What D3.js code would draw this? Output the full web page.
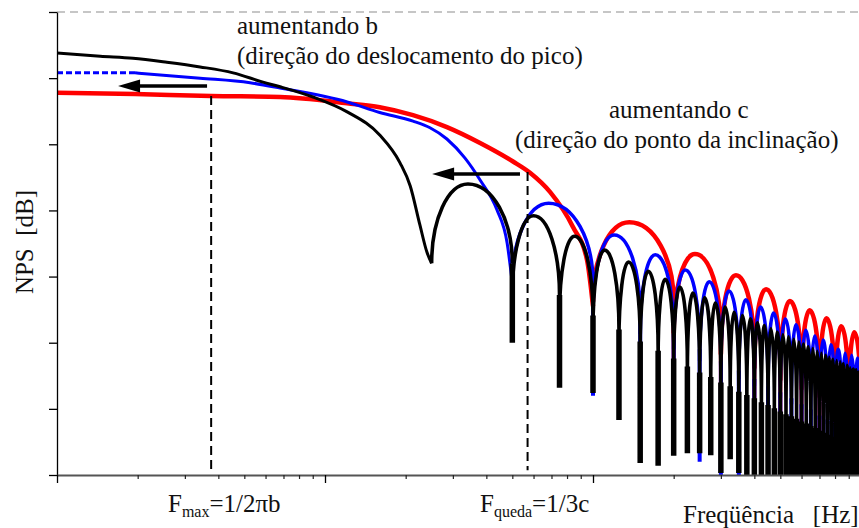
<!DOCTYPE html>
<html>
<head>
<meta charset="utf-8">
<script src="https://cdn.jsdelivr.net/npm/d3@7"></script>
<style>
  body { margin: 0; background: #fff; }
  svg text { font-family: "Liberation Serif", "Times New Roman", serif; fill: #111; white-space: pre; }
</style>
</head>
<body>
<svg id="chart" width="859" height="528"></svg>
<script>
// frequency in relative units (log axis), level in dB below the top of the frame
var xMajorTicks = [1, 10, 100, 1000];
var xMinorTicks = [2, 3, 4, 5, 6, 7, 8, 9, 20, 30, 40, 50, 60, 70, 80, 90,
                   200, 300, 400, 500, 600, 700, 800, 900];
var yTicks = [0, -10, -20, -30, -40, -50, -60, -70];

// main lobes [f, dB]
var blackMain = [[1, -6.2], [1.45, -6.7], [1.92, -7.0], [2.57, -7.6], [3.42, -8.3], [4.54, -9.2],
                 [5.87, -10.6], [6.8, -11.3], [9.02, -12.85], [12.1, -15.1], [16.0, -18.6],
                 [19.05, -22.8], [20.8, -26.3], [22.6, -32.2], [24.0, -36.3]];
var blueMain = [[1, -9.2], [1.955, -9.2], [3.42, -10.0], [5.25, -10.7], [6.8, -11.5], [12.1, -13.6],
                [16.0, -15.2], [21.3, -16.5], [24.65, -17.5], [28.5, -19.2], [33.3, -22.1],
                [37.9, -25.4], [43.8, -29.9], [47.8, -34.9]];
var redMain = [[1, -12.2], [1.955, -12.4], [3.76, -12.7], [6.8, -12.85], [12.1, -13.8], [16.0, -14.4],
               [21.3, -15.6], [28.5, -17.4], [37.9, -19.8], [50.3, -22.6], [58.2, -24.3], [69.1, -27.2],
               [84.2, -32.5], [95.0, -37.5]];

// side lobes: null frequencies, lobe peaks, null depths
var blackNulls = [25, 50, 75, 100, 125, 150, 175, 200, 225, 250, 275, 300, 325, 350, 375, 400,
                  425, 450, 475, 500, 525, 550, 575, 600, 625, 650, 675, 700, 725, 750, 775, 800,
                  825, 850, 875, 900, 925, 950, 975, 1000];
var blackPeaks = [-26.0, -30.8, -33.9, -36.0, -37.8, -39.2, -40.4, -41.6, -42.5, -43.2, -44.0,
                  -44.6, -45.4, -45.9, -46.4, -47.0, -47.4, -47.9, -48.4, -48.8, -49.1, -49.5,
                  -49.9, -50.2, -50.6, -50.9, -51.3, -51.6, -51.9, -52.2, -52.5, -52.7, -52.9,
                  -53.2, -53.4, -53.8, -54.0, -54.1, -54.4];
var blackDepths = [-38.0, -50.0, -56.8, -57.6, -61.7, -68.2, -68.6, -67.1, -66.7, -66.7, -67.0,
                   -69.7, -67.6, -69.7, -75, -75, -75, -75, -75, -75, -75, -75, -75, -75, -75,
                   -75, -75, -75, -75, -75, -75, -75, -75, -75, -75, -75, -75, -75, -75, -75];

var blueNulls = [50, 100, 150, 200, 250, 300, 350, 400, 450, 500, 550, 600, 650, 700, 750, 800,
                 850, 900, 950, 1000];
var bluePeaks = [-28.9, -33.7, -36.7, -39.0, -40.8, -42.2, -43.5, -44.6, -45.5, -46.4, -47.3,
                 -48.1, -49.0, -49.6, -50.3, -51.0, -51.6, -51.9, -52.3];
var blueDepths = [-41.0, -58, -66, -65, -68, -70, -75, -75, -75, -75, -75, -75, -75, -75, -75,
                  -75, -75, -75, -75, -75];

var redNulls = [100, 200, 300, 400, 500, 600, 700, 800, 900, 1000];
var redPeaks = [-31.8, -36.6, -39.8, -41.9, -43.7, -45.1, -46.3, -47.5, -48.4];
var redDepths = [-44.5, -56.1, -63.2, -66.2, -68.8, -68.9, -67.0, -66.2, -64.7, -66];

// annotations
var guideF = [3.76, 57], guideTop = [-12.7, -24.2], guideBottom = -69.3;
var arrowFrom = [3.63, 53.4], arrowTo = [1.69, 25.1], arrowLevel = [-11.2, -24.5];

var archDepth = 12;   // dB from peak where a lobe turns into its null

var svg = d3.select("#chart");
var x = d3.scaleLog().domain([1, 1000]).range([57, 861]);
var y = d3.scaleLinear().domain([-70, 0]).range([475, 12]);

svg.append("defs").append("clipPath").attr("id", "plot")
  .append("rect").attr("x", 57).attr("y", 12).attr("width", 802).attr("height", 463);

// top dashed frame line
svg.append("line")
  .attr("x1", x(1)).attr("x2", 859).attr("y1", y(0)).attr("y2", y(0))
  .attr("stroke", "#b4b4b4").attr("stroke-width", 1.5).attr("stroke-dasharray", "8,5");

var line = d3.line().x(function(d) { return x(d[0]); }).y(function(d) { return y(d[1]); })
  .curve(d3.curveMonotoneX);

function sideLobes(nulls, peaks, depths) {
  var arches = "", legs = "";
  peaks.forEach(function(pk, i) {
    var xl = x(nulls[i]), xr = x(nulls[i + 1]), xm = xl + 0.45 * (xr - xl);
    var yp = y(pk);
    var yl = y(Math.max(depths[i], pk - archDepth));
    var yr = y(Math.max(depths[i + 1], pk - archDepth));
    arches += "M" + xl + "," + yl +
         "A" + (xm - xl) + "," + (yl - yp) + " 0 0 1 " + xm + "," + yp +
         "A" + (xr - xm) + "," + (yr - yp) + " 0 0 1 " + xr + "," + yr;
    legs += "M" + xl + "," + y(depths[i]) + "L" + xl + "," + yl +
            "M" + xr + "," + yr + "L" + xr + "," + y(depths[i + 1]);
  });
  return { arches: arches, legs: legs };
}

var plot = svg.append("g").attr("clip-path", "url(#plot)");

var series = [
  { color: "#ff0000", main: redMain, nulls: redNulls, peaks: redPeaks, depths: redDepths, w: 4.5, lw: 4.5, nw: 4 },
  { color: "#0000ff", main: blueMain, nulls: blueNulls, peaks: bluePeaks, depths: blueDepths, w: 3, lw: 3.5, nw: 4 },
  { color: "#000000", main: blackMain, nulls: blackNulls, peaks: blackPeaks, depths: blackDepths, w: 3, lw: 3.6, nw: 5.5 }
];

series.forEach(function(s) {
  var main = s.main;
  if (s.main === blueMain) {
    plot.append("path").attr("d", line(blueMain.slice(0, 2)))
      .attr("fill", "none").attr("stroke", s.color).attr("stroke-width", s.w)
      .attr("stroke-dasharray", "6,3");
    main = blueMain.slice(1);
  }
  plot.append("path")
    .attr("d", line(main.concat([[s.nulls[0], s.depths[0]]])))
    .attr("fill", "none").attr("stroke", s.color).attr("stroke-width", s.w);
  var lobes = sideLobes(s.nulls, s.peaks, s.depths);
  plot.append("path").attr("d", lobes.legs)
    .attr("fill", "none").attr("stroke", s.color).attr("stroke-width", s.nw);
  plot.append("path").attr("d", lobes.arches)
    .attr("fill", "none").attr("stroke", s.color).attr("stroke-width", s.lw);
});

// guide lines
guideF.forEach(function(f, i) {
  svg.append("line")
    .attr("x1", x(f)).attr("x2", x(f)).attr("y1", y(guideTop[i])).attr("y2", y(guideBottom))
    .attr("stroke", "#000").attr("stroke-width", 2).attr("stroke-dasharray", "9,5");
});

// arrows
arrowFrom.forEach(function(f, i) {
  var x0 = x(f), x1 = x(arrowTo[i]), yy = y(arrowLevel[i]);
  svg.append("line").attr("x1", x0).attr("x2", x1 + 18).attr("y1", yy).attr("y2", yy)
    .attr("stroke", "#000").attr("stroke-width", 3.5);
  svg.append("path")
    .attr("d", "M" + x1 + "," + yy + "L" + (x1 + 22) + "," + (yy - 6.5) + "L" + (x1 + 22) + "," + (yy + 6.5) + "Z")
    .attr("fill", "#000");
});

// axes
var yAxis = svg.append("g").attr("transform", "translate(57,0)")
  .call(d3.axisLeft(y).tickValues(yTicks).tickSize(8).tickSizeOuter(0).tickFormat(""));
yAxis.selectAll("path, line").attr("stroke", "#000").attr("stroke-width", 1.3);

var xAxis = svg.append("g").attr("transform", "translate(0,475)")
  .call(d3.axisBottom(x).tickValues(xMinorTicks).tickSize(4).tickSizeOuter(0).tickFormat(""));
xAxis.selectAll("path").attr("stroke", "#555").attr("stroke-width", 2);
xAxis.selectAll("line").attr("stroke", "#222").attr("stroke-width", 1.2);

var xMajor = svg.append("g").attr("transform", "translate(0,475)")
  .call(d3.axisBottom(x).tickValues(xMajorTicks).tickSize(8).tickSizeOuter(0).tickFormat(""));
xMajor.select(".domain").remove();
xMajor.selectAll("line").attr("stroke", "#000").attr("stroke-width", 1.3);

// texts
var fs = 25;
function label(tx, ty, str) {
  return svg.append("text").attr("x", tx).attr("y", ty).attr("font-size", fs).text(str);
}
label(237, 34, "aumentando b");
label(237, 64, "(direção do deslocamento do pico)");
label(609, 118, "aumentando c");
label(515, 148, "(direção do ponto da inclinação)");
label(683, 523, "Freqüência   [Hz]");

var fmax = svg.append("text").attr("x", 168).attr("y", 512).attr("font-size", fs);
fmax.append("tspan").text("F");
fmax.append("tspan").attr("dy", 5).attr("font-size", 16).text("max");
fmax.append("tspan").attr("dy", -5).text("=1/2πb");

var fq = svg.append("text").attr("x", 480).attr("y", 512).attr("font-size", fs);
fq.append("tspan").text("F");
fq.append("tspan").attr("dy", 5).attr("font-size", 16).text("queda");
fq.append("tspan").attr("dy", -5).text("=1/3c");

svg.append("text").attr("transform", "translate(33,242) rotate(-90)")
  .attr("text-anchor", "middle").attr("font-size", fs).text("NPS  [dB]");
</script>
</body>
</html>
